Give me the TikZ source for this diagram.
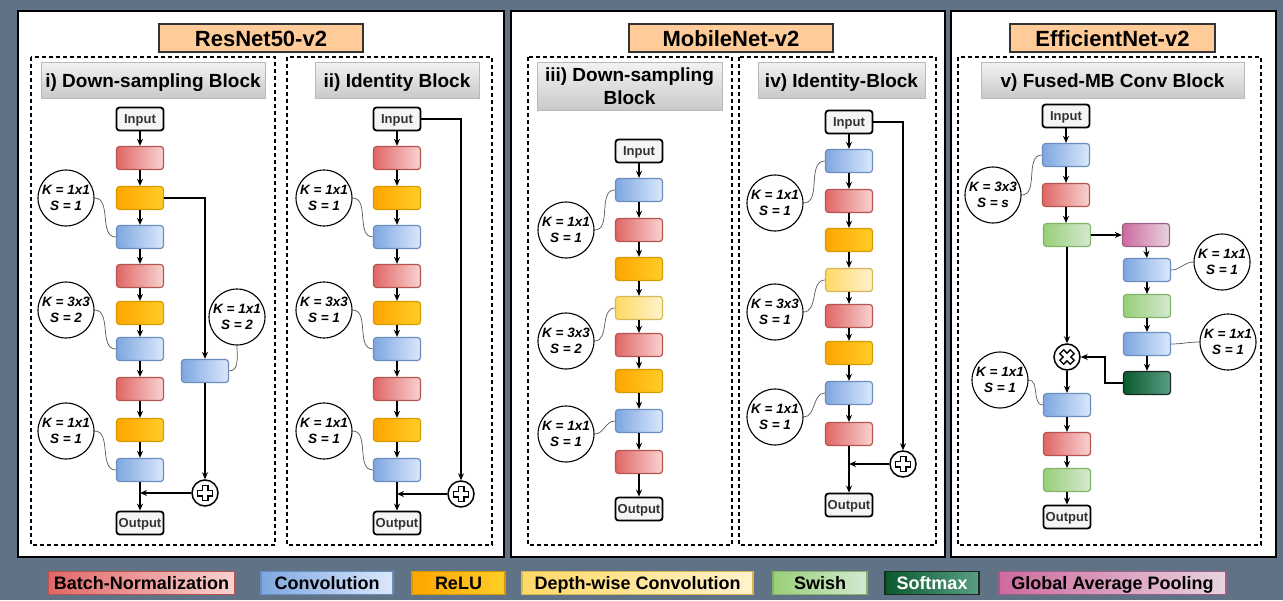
\documentclass[tikz,border=0pt]{standalone}
\usepackage{fontspec}
\setmainfont{Liberation Sans}
\usetikzlibrary{arrows.meta}

\definecolor{slate}{RGB}{96,114,134}
\definecolor{peach}{HTML}{FFCC99}
\definecolor{iofill}{HTML}{F5F5F5}
\definecolor{bnL}{HTML}{E06666}\definecolor{bnR}{HTML}{F8D3D1}\definecolor{bnD}{HTML}{B85450}
\definecolor{cvL}{HTML}{7EA6E0}\definecolor{cvR}{HTML}{DAE8FC}\definecolor{cvD}{HTML}{6C8EBF}
\definecolor{reL}{HTML}{FFA500}\definecolor{reR}{HTML}{FFCD28}\definecolor{reD}{HTML}{D79B00}
\definecolor{dwL}{HTML}{FFD966}\definecolor{dwR}{HTML}{FFF2CC}\definecolor{dwD}{HTML}{D6B656}
\definecolor{swL}{HTML}{97D077}\definecolor{swR}{HTML}{D5E8D4}\definecolor{swD}{HTML}{82B366}
\definecolor{smL}{HTML}{0A5A2C}\definecolor{smR}{HTML}{5A9E86}\definecolor{smD}{HTML}{1A2A20}
\definecolor{gpL}{HTML}{CD6A9E}\definecolor{gpR}{HTML}{E8D3E0}\definecolor{gpD}{HTML}{996185}

\tikzset{
  hollowplus/.pic={
    \draw[line width=7pt] (-8,0)--(8,0) (0,-8)--(0,8);
    \draw[white,line width=3.6pt] (-6.6,0)--(6.6,0) (0,-6.6)--(0,6.6);
  }
}

\begin{document}
\begin{tikzpicture}[x=1pt,y=-1pt,
  panel/.style={draw=black,line width=2.2pt,fill=white},
  dashbox/.style={draw=black,line width=1.1pt,dash pattern=on 4pt off 3pt},
  ttl/.style={draw=black!80,line width=1.5pt,fill=peach,minimum height=28pt,inner sep=0pt,
    text height=16pt,text depth=0pt,font=\bfseries\fontsize{22}{26}\selectfont},
  hdr/.style={draw=gray!55,line width=1pt,top color=gray!10,bottom color=gray!42,inner sep=0pt,
    align=center,font=\bfseries\fontsize{19}{23}\selectfont},
  hdrone/.style={hdr,minimum height=36pt,text height=14pt,text depth=0pt},
  blk/.style={rounded corners=3pt,minimum width=47pt,minimum height=23pt,inner sep=0pt,line width=1.2pt},
  bn/.style={blk,draw=bnD,left color=bnL,right color=bnR},
  conv/.style={blk,draw=cvD,left color=cvL,right color=cvR},
  relu/.style={blk,draw=reD,left color=reL,right color=reR},
  dw/.style={blk,draw=dwD,left color=dwL,right color=dwR},
  swish/.style={blk,draw=swD,left color=swL,right color=swR},
  smax/.style={blk,draw=smD,left color=smL,right color=smR},
  gap/.style={blk,draw=gpD,left color=gpL,right color=gpR},
  io/.style={draw=black,line width=1.8pt,rounded corners=3pt,fill=iofill,minimum width=47pt,
    minimum height=23pt,inner sep=1pt,text=black!80,text height=9.5pt,text depth=0pt,
    font=\bfseries\fontsize{13}{15}\selectfont},
  note/.style={circle,draw=black,line width=1.1pt,fill=white,minimum size=56pt,inner sep=0pt,
    align=center,font=\bfseries\itshape\fontsize{13.5}{16.5}\selectfont},
  op/.style={circle,draw=black,line width=1.5pt,fill=white,minimum size=26pt,inner sep=0pt},
  wire/.style={draw=black!65,line width=0.7pt},
  arr/.style={draw=black,line width=1.2pt,-{Stealth[length=7pt,width=6pt]}},
  leg/.style={minimum height=23pt,inner sep=0pt,line width=1.8pt,text height=13pt,text depth=0pt,
    font=\bfseries\fontsize{18}{20}\selectfont}
]
\useasboundingbox (0,0) rectangle (1283,600);
\fill[slate] (0,0) rectangle (1283,600);

% ---------- panels ----------
\draw[panel] (18,11) rectangle (504,557);
\draw[panel] (511,11) rectangle (945,557);
\draw[panel] (951,11) rectangle (1276,557);

\draw[dashbox] (31,57) rectangle (275,545);
\draw[dashbox] (287,57) rectangle (492,545);
\draw[dashbox] (528,57) rectangle (732,545);
\draw[dashbox] (739,57) rectangle (936,545);
\draw[dashbox] (958,57) rectangle (1261,545);

\node[ttl,minimum width=204pt] (t1) at (261,38) {ResNet50-v2};
\node[ttl,minimum width=204pt] (t2) at (731,38) {MobileNet-v2};
\node[ttl,minimum width=205pt] (t3) at (1112.5,38) {EfficientNet-v2};

\node[hdrone,minimum width=224pt] (h1) at (153,80) {i) Down-sampling Block};
\node[hdrone,minimum width=164pt] (h2) at (397,80) {ii) Identity Block};
\node[hdr,minimum width=185pt,minimum height=48pt] (h3) at (629.5,86) {iii) Down-sampling\\Block};
\node[hdrone,minimum width=167pt] (h4) at (841.5,80) {iv) Identity-Block};
\node[hdrone,minimum width=263pt] (h5) at (1112.5,80) {v) Fused-MB Conv Block};

% ---------- i) ResNet down-sampling block ----------
\node[io]   (aI) at (140,119) {Input};
\node[bn]   (a1) at (140,158) {};
\node[relu] (a2) at (140,198) {};
\node[conv] (a3) at (140,237) {};
\node[bn]   (a4) at (140,276) {};
\node[relu] (a5) at (140,313) {};
\node[conv] (a6) at (140,349) {};
\node[bn]   (a7) at (140,389) {};
\node[relu] (a8) at (140,430) {};
\node[conv] (a9) at (140,470) {};
\node[io]   (aO) at (140,523) {Output};
\node[conv] (aS) at (205,371) {};
\node[op]   (aP) at (205,493) {};
\pic at (aP) {hollowplus};
\node[note] (aK1) at (66,198) {K = 1x1\\S = 1};
\node[note] (aK2) at (66,310) {K = 3x3\\S = 2};
\node[note] (aK3) at (66,431) {K = 1x1\\S = 1};
\node[note] (aK4) at (237,317) {K = 1x1\\S = 2};

\draw[arr] (aI.south) -- (a1.north);
\draw[arr] (a1.south) -- (a2.north);
\draw[arr] (a2.south) -- (a3.north);
\draw[arr] (a3.south) -- (a4.north);
\draw[arr] (a4.south) -- (a5.north);
\draw[arr] (a5.south) -- (a6.north);
\draw[arr] (a6.south) -- (a7.north);
\draw[arr] (a7.south) -- (a8.north);
\draw[arr] (a8.south) -- (a9.north);
\draw[arr] (a9.south) -- (aO.north);
\draw[arr] (a2.east) -| (aS.north);
\draw[arr] (aS.south) -- (aP.north);
\draw[arr] (aP.west) -- (aP.west -| a9.south);
\draw[wire] (aK1.east) to[out=0,in=180] (a3.west);
\draw[wire] (aK2.east) to[out=0,in=180] (a6.west);
\draw[wire] (aK3.east) to[out=0,in=180] (a9.west);
\draw[wire] (aK4.south) to[out=-90,in=0] (aS.east);

% ---------- ii) ResNet identity block ----------
\node[io]   (bI) at (397,119) {Input};
\node[bn]   (b1) at (397,158) {};
\node[relu] (b2) at (397,198) {};
\node[conv] (b3) at (397,237) {};
\node[bn]   (b4) at (397,276) {};
\node[relu] (b5) at (397,313) {};
\node[conv] (b6) at (397,349) {};
\node[bn]   (b7) at (397,389) {};
\node[relu] (b8) at (397,430) {};
\node[conv] (b9) at (397,470) {};
\node[io]   (bO) at (397,523) {Output};
\node[op]   (bP) at (461,494) {};
\pic at (bP) {hollowplus};
\node[note] (bK1) at (324,198) {K = 1x1\\S = 1};
\node[note] (bK2) at (324,310) {K = 3x3\\S = 1};
\node[note] (bK3) at (324,431) {K = 1x1\\S = 1};

\draw[arr] (bI.south) -- (b1.north);
\draw[arr] (b1.south) -- (b2.north);
\draw[arr] (b2.south) -- (b3.north);
\draw[arr] (b3.south) -- (b4.north);
\draw[arr] (b4.south) -- (b5.north);
\draw[arr] (b5.south) -- (b6.north);
\draw[arr] (b6.south) -- (b7.north);
\draw[arr] (b7.south) -- (b8.north);
\draw[arr] (b8.south) -- (b9.north);
\draw[arr] (b9.south) -- (bO.north);
\draw[arr] (bI.east) -| (bP.north);
\draw[arr] (bP.west) -- (bP.west -| b9.south);
\draw[wire] (bK1.east) to[out=0,in=180] (b3.west);
\draw[wire] (bK2.east) to[out=0,in=180] (b6.west);
\draw[wire] (bK3.east) to[out=0,in=180] (b9.west);

% ---------- iii) MobileNet down-sampling block ----------
\node[io]   (cI) at (639,151) {Input};
\node[conv] (c1) at (639,190) {};
\node[bn]   (c2) at (639,230) {};
\node[relu] (c3) at (639,269) {};
\node[dw]   (c4) at (639,308) {};
\node[bn]   (c5) at (639,345) {};
\node[relu] (c6) at (639,381) {};
\node[conv] (c7) at (639,421) {};
\node[bn]   (c8) at (639,462) {};
\node[io]   (cO) at (639,509) {Output};
\node[note] (cK1) at (566,230) {K = 1x1\\S = 1};
\node[note] (cK2) at (566,341) {K = 3x3\\S = 2};
\node[note] (cK3) at (566,434) {K = 1x1\\S = 1};

\draw[arr] (cI.south) -- (c1.north);
\draw[arr] (c1.south) -- (c2.north);
\draw[arr] (c2.south) -- (c3.north);
\draw[arr] (c3.south) -- (c4.north);
\draw[arr] (c4.south) -- (c5.north);
\draw[arr] (c5.south) -- (c6.north);
\draw[arr] (c6.south) -- (c7.north);
\draw[arr] (c7.south) -- (c8.north);
\draw[arr] (c8.south) -- (cO.north);
\draw[wire] (cK1.east) to[out=0,in=180] (c1.west);
\draw[wire] (cK2.east) to[out=0,in=180] (c4.west);
\draw[wire] (cK3.east) to[out=0,in=180] (c7.west);

% ---------- iv) MobileNet identity block ----------
\node[io]   (dI) at (849,122) {Input};
\node[conv] (d1) at (849,161) {};
\node[bn]   (d2) at (849,201) {};
\node[relu] (d3) at (849,240) {};
\node[dw]   (d4) at (849,280) {};
\node[bn]   (d5) at (849,316) {};
\node[relu] (d6) at (849,353) {};
\node[conv] (d7) at (849,393) {};
\node[bn]   (d8) at (849,434) {};
\node[io]   (dO) at (849,505) {Output};
\node[op]   (dP) at (903,464) {};
\pic at (dP) {hollowplus};
\node[note] (dK1) at (775,203) {K = 1x1\\S = 1};
\node[note] (dK2) at (775,312) {K = 3x3\\S = 1};
\node[note] (dK3) at (775,417) {K = 1x1\\S = 1};

\draw[arr] (dI.south) -- (d1.north);
\draw[arr] (d1.south) -- (d2.north);
\draw[arr] (d2.south) -- (d3.north);
\draw[arr] (d3.south) -- (d4.north);
\draw[arr] (d4.south) -- (d5.north);
\draw[arr] (d5.south) -- (d6.north);
\draw[arr] (d6.south) -- (d7.north);
\draw[arr] (d7.south) -- (d8.north);
\draw[arr] (d8.south) -- (dO.north);
\draw[arr] (dI.east) -| (dP.north);
\draw[arr] (dP.west) -- (dP.west -| d8.south);
\draw[wire] (dK1.east) to[out=0,in=180] (d1.west);
\draw[wire] (dK2.east) to[out=0,in=180] (d4.west);
\draw[wire] (dK3.east) to[out=0,in=180] (d7.west);

% ---------- v) EfficientNet fused-MB conv block ----------
\node[io]    (eI) at (1066,116) {Input};
\node[conv]  (e1) at (1066,155) {};
\node[bn]    (e2) at (1066,195) {};
\node[swish] (e3) at (1067,235) {};
\node[gap]   (f1) at (1146,235) {};
\node[conv]  (f2) at (1147,270) {};
\node[swish] (f3) at (1147,306) {};
\node[conv]  (f4) at (1147,344) {};
\node[smax]  (f5) at (1147,383) {};
\node[op]    (eX) at (1067,357) {};
\pic[rotate=45] at (eX) {hollowplus};
\node[conv]  (e4) at (1067,405) {};
\node[bn]    (e5) at (1067,444) {};
\node[swish] (e6) at (1067,480) {};
\node[io]    (eO) at (1067,517) {Output};
\node[note] (eK1) at (993,195) {K = 3x3\\S = s};
\node[note] (eK2) at (1222,262) {K = 1x1\\S = 1};
\node[note] (eK3) at (1228,342) {K = 1x1\\S = 1};
\node[note] (eK4) at (1000,380) {K = 1x1\\S = 1};

\draw[arr] (eI.south) -- (e1.north);
\draw[arr] (e1.south) -- (e2.north);
\draw[arr] (e2.south) -- (e3.north -| e2.south);
\draw[arr] (e3.east) -- (f1.west);
\draw[arr] (f1.south) -- (f2.north);
\draw[arr] (f2.south) -- (f3.north);
\draw[arr] (f3.south) -- (f4.north);
\draw[arr] (f4.south) -- (f5.north);
\draw[arr] (e3.south) -- (eX.north);
\draw[arr] (f5.west) -- ++(-18,0) |- (eX.east);
\draw[arr] (eX.south) -- (e4.north);
\draw[arr] (e4.south) -- (e5.north);
\draw[arr] (e5.south) -- (e6.north);
\draw[arr] (e6.south) -- (eO.north);
\draw[wire] (eK1.east) to[out=0,in=180] (e1.west);
\draw[wire] (eK2.west) to[out=180,in=0] (f2.east);
\draw[wire] (eK3.west) to[out=180,in=0] (f4.east);
\draw[wire] (eK4.east) to[out=0,in=180] (e4.west);

% ---------- legend ----------
\node[leg,minimum width=187pt,draw=bnD,left color=bnL,right color=bnR] (lg1) at (141.5,583) {Batch-Normalization};
\node[leg,minimum width=132pt,draw=cvD,left color=cvL,right color=cvR] (lg2) at (327,583) {Convolution};
\node[leg,minimum width=93pt,draw=reD,left color=reL,right color=reR] (lg3) at (458.5,583) {ReLU};
\node[leg,minimum width=231pt,draw=dwD,left color=dwL,right color=dwR] (lg4) at (637.5,583) {Depth-wise Convolution};
\node[leg,minimum width=94pt,draw=swD,left color=swL,right color=swR] (lg5) at (820,583) {Swish};
\node[leg,minimum width=94pt,draw=smD,left color=smL,right color=smR,text=white] (lg6) at (932,583) {Softmax};
\node[leg,minimum width=227pt,draw=gpD,left color=gpL,right color=gpR] (lg7) at (1112.5,583) {Global Average Pooling};
\end{tikzpicture}
\end{document}
